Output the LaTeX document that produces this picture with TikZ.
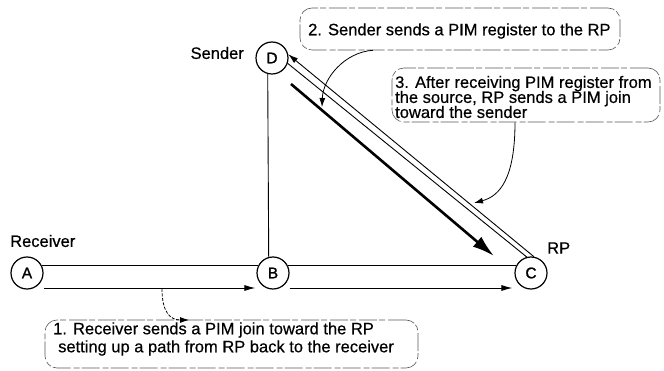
\documentclass[tikz,border=0pt]{standalone}
\usepackage{fontspec}
\setmainfont{Liberation Sans}[FakeBold=0.5]
\newfontfamily\letterfont{Liberation Sans}[FakeBold=1.2]
\usetikzlibrary{arrows.meta,calc}
\newcommand\tightlines{\lineskiplimit=-20pt\relax}
\begin{document}
\begin{tikzpicture}[x=1pt,y=-1pt,
  font=\fontsize{16.5}{15}\selectfont\tightlines,
  router/.style={draw,circle,minimum size=32pt,inner sep=0pt,line width=1.2pt,font=\letterfont\fontsize{15.5}{15}\selectfont},
  link/.style={line width=0.9pt},
  flow/.style={line width=0.9pt,-{Latex[length=11pt,width=6pt]}},
  callout/.style={draw=black!65,line width=0.6pt,rounded corners=12pt,dash pattern=on 18pt off 3pt on 6pt off 2pt},
  pointer/.style={line width=0.8pt,-{Latex[length=9pt,width=6pt]}},
  lbl/.style={inner sep=0pt}]
\useasboundingbox (0,0) rectangle (664,371);

% routers
\node[router] (A) at (27,273) {A};
\node[router] (B) at (273,273) {B};
\node[router] (C) at (531,273) {C};
\node[router] (D) at (272,58) {D};

% labels
\node[lbl,anchor=west] (lrecv) at (10,241) {Receiver};
\node[lbl,anchor=east] (lsend) at (244,53) {Sender};
\node[lbl,anchor=west] (lrp) at (547,248) {RP};

% links
\draw[link] (A.26) -- (B.154);
\draw[link] (B.26) -- (C.154);
\draw[link] (D.255) -- (B.105);

% joins along the bottom
\draw[flow] ([yshift=-15pt]A.east) -- ([yshift=-15pt,xshift=-1pt]B.west);
\draw[flow] ([yshift=-15pt]B.east) -- ([yshift=-15pt,xshift=-2pt]C.west);

% double line between D and C (join toward the sender)
\draw[link,{Latex[length=10pt,width=6pt]}-] (D.13) -- (C.80);
\draw[link] (D.-19) -- (C.105);

% register flow (thick arrow)
\coordinate (t1) at (291,84);
\coordinate (t2) at (494,256);
\draw[line width=2.6pt,-{Latex[length=22pt,width=13pt]}] (t1) -- (t2);

% callouts
\node[callout,minimum width=320pt,minimum height=42pt] (box2) at (460,29) {};
\node[lbl,anchor=west] (txt2) at (308,31) {2. Sender sends a PIM register to the RP};

\node[callout,minimum width=268pt,minimum height=54pt] (box3) at (526,95) {};
\node[lbl,anchor=west,align=left] (txt3) at (395,97) {3. After receiving PIM register from\\the source, RP sends a PIM join\\toward the sender};

\node[callout,minimum width=373pt,minimum height=48pt] (box1) at (231.5,344) {};
\node[lbl,anchor=west,align=left,font=\fontsize{16.5}{18}\selectfont\tightlines] (txt1) at (53,339) {1. Receiver sends a PIM join toward the RP\\\hspace*{5pt}setting up a path from RP back to the receiver};

% pointers
\coordinate (p1) at (162,289);
\coordinate (p1e) at (189,320);
\draw[pointer,dash pattern=on 3pt off 1.5pt] (p1) .. controls (162,312) and (170,320) .. (p1e);
\coordinate (p2e) at (322,107);
\draw[pointer] ([xshift=-87pt]box2.south) .. controls (345,52) and (323,78) .. (p2e);
\coordinate (p3e) at (474,203);
\draw[pointer] ([xshift=-11pt]box3.south) .. controls (515,178) and (500,196) .. (p3e);
\end{tikzpicture}
\end{document}
